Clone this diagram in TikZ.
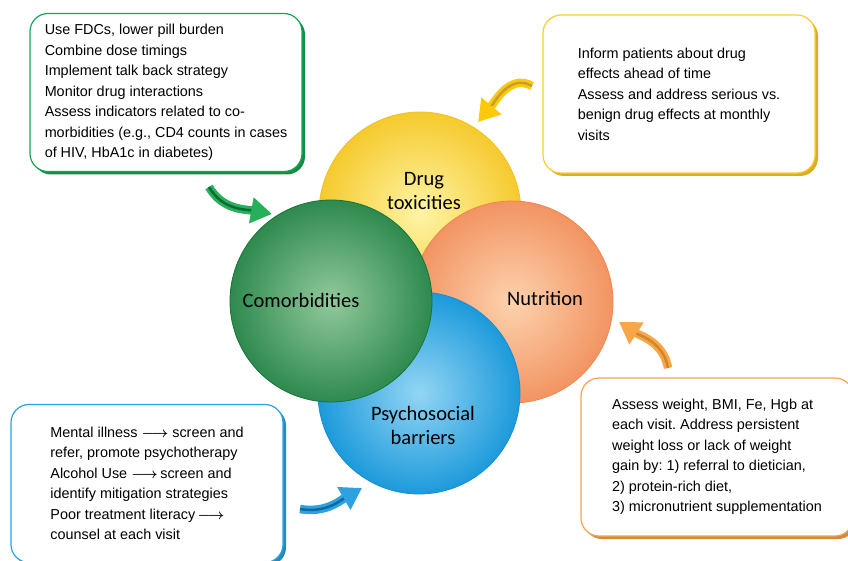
\documentclass[tikz,border=0pt]{standalone}
\usepackage{amsmath}
\usepackage{fontspec}
\setmainfont{Liberation Sans}
\newfontfamily\carlito{Carlito}
\usetikzlibrary{arrows.meta,shadows}
\frenchspacing

\definecolor{gbox}{HTML}{1BA455}
\definecolor{ybox}{HTML}{FFCC33}
\definecolor{bbox}{HTML}{2AA3DD}
\definecolor{obox}{HTML}{F7A24E}
\definecolor{ginner}{HTML}{92C99C}
\definecolor{gouter}{HTML}{2E8A4E}
\definecolor{gedge}{HTML}{17743A}
\definecolor{yinner}{HTML}{FFF4A6}
\definecolor{youter}{HTML}{F5CA2E}
\definecolor{yedge}{HTML}{EFC22A}
\definecolor{oinner}{HTML}{FDD2AE}
\definecolor{oouter}{HTML}{F29462}
\definecolor{oedge}{HTML}{EE8654}
\definecolor{binner}{HTML}{93D5F4}
\definecolor{bouter}{HTML}{1C9ADB}
\definecolor{bedge}{HTML}{178ED3}
\definecolor{garrow}{HTML}{27B05A}
\definecolor{gshade}{HTML}{0D6A36}
\definecolor{yarrow}{HTML}{FFC80A}
\definecolor{yshade}{HTML}{C6A02A}
\definecolor{barrow}{HTML}{2DA2E0}
\definecolor{bshade}{HTML}{0F6AA2}
\definecolor{oarrow}{HTML}{F7A748}
\definecolor{oshade}{HTML}{D2852C}

\newcommand{\leadsarrow}{$\boldsymbol{\longrightarrow}$}

\tikzset{
  infobox/.style={draw=#1, line width=1.2pt, fill=white, rounded corners=18pt,
    minimum width=272pt, minimum height=158pt, inner sep=0pt, align=left,
    font=\fontsize{14.4}{20.5}\selectfont,
    general shadow={fill=#1!85!black, shadow xshift=3pt, shadow yshift=-3pt}},
  ball/.style={circle, minimum size=202pt, inner sep=0pt, draw=#1, line width=0.8pt},
  balltext/.style={font=\carlito\fontsize{20.5}{24}\selectfont, align=center},
  bendarrow/.style={line width=8.5pt, draw=#1, -{Triangle[width=25pt,length=21pt]}},
  bendstripe/.style={line width=2.5pt, draw=#1, shorten >=21pt},
}

\begin{document}
\begin{tikzpicture}[x=1pt,y=1pt]
    \useasboundingbox (0,0) rectangle (848,-561);

    % the four circles
    \node[ball=yedge, inner color=yinner, outer color=youter] (tox) at (420,-213) {};
    \node[ball=oedge, inner color=oinner, outer color=oouter] (nut) at (512,-302) {};
    \node[ball=bedge, inner color=binner, outer color=bouter] (psy) at (419,-393) {};
    \node[ball=gedge, inner color=ginner, outer color=gouter] (com) at (331,-301) {};

    \node[balltext] (toxt) at (424,-191) {Drug\\toxicities};
    \node[balltext] (nutt) at (545,-298) {Nutrition};
    \node[balltext] (psyt) at (423,-425) {Psychosocial\\barriers};
    \node[balltext] (comt) at (301,-300) {Comorbidities};

    % the four boxes
    \node[infobox=gbox] (combox) at (166,-92.5) {Use FDCs, lower pill burden\\
      Combine dose timings\\
      Implement talk back strategy\\
      Monitor drug interactions\\
      Assess indicators related to co-\\
      morbidities (e.g., CD4 counts in cases\\
      of HIV, HbA1c in diabetes)};
    \node[infobox=ybox] (toxbox) at (679,-94) {Inform patients about drug\\
      effects ahead of time\\
      Assess and address serious vs.\\
      benign drug effects at monthly\\
      visits};
    \node[infobox=bbox] (psybox) at (147,-483.5) {Mental illness \leadsarrow\ screen and\\
      refer, promote psychotherapy\\
      Alcohol Use \leadsarrow\,screen and\\
      identify mitigation strategies\\
      Poor treatment literacy\,\leadsarrow\\
      counsel at each visit};
    \node[infobox=obox] (nutbox) at (717,-457) {Assess weight, BMI, Fe, Hgb at\\
      each visit. Address persistent\\
      weight loss or lack of weight\\
      gain by: 1) referral to dietician,\\
      2) protein-rich diet,\\
      3) micronutrient supplementation};

    % curved arrows from the boxes to the circles
    \coordinate (ga) at (209,-187);
    \coordinate (gb) at (272,-214);
    \coordinate (ya) at (532,-86);
    \coordinate (yb) at (478,-122);
    \coordinate (ba) at (300,-509);
    \coordinate (bb) at (362,-488);
    \coordinate (oa) at (668,-368);
    \coordinate (ob) at (619,-322);

    \draw[bendarrow=garrow] (ga) to[out=-60,in=170] (gb);
    \draw[bendstripe=gshade] (ga) to[out=-60,in=170] (gb);
    \draw[bendarrow=yarrow] (ya) to[out=150,in=50] (yb);
    \draw[bendstripe=yshade] (ya) to[out=150,in=50] (yb);
    \draw[bendarrow=barrow] (ba) to[out=-10,in=210] (bb);
    \draw[bendstripe=bshade] (ba) to[out=-10,in=210] (bb);
    \draw[bendarrow=oarrow] (oa) to[out=100,in=-33] (ob);
    \draw[bendstripe=oshade] (oa) to[out=100,in=-33] (ob);
\end{tikzpicture}
\end{document}
